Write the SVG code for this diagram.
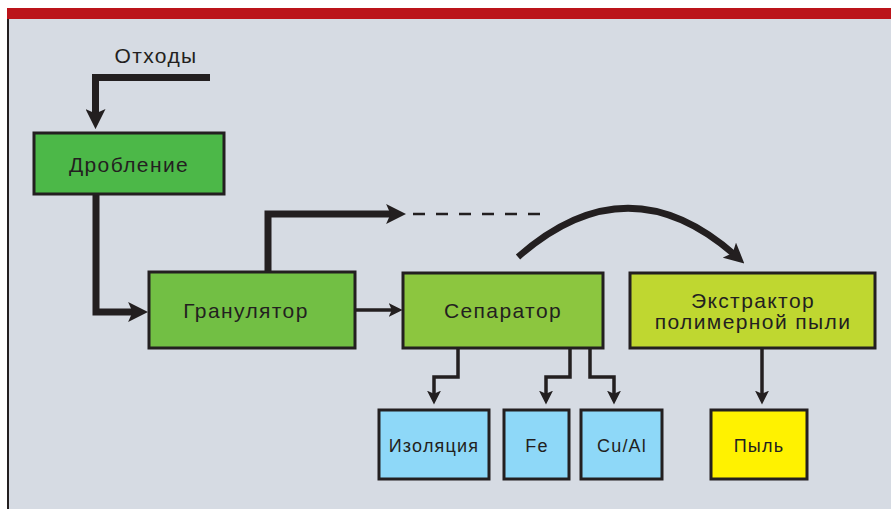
<svg xmlns="http://www.w3.org/2000/svg" width="891" height="509" viewBox="0 0 891 509">
<style>
.box{stroke:#231f20;stroke-width:3}
.t{font-family:"Liberation Sans",Arial,sans-serif;font-size:21px;letter-spacing:1.4px;fill:#231f20;text-anchor:middle}
.s{font-size:18px;letter-spacing:1.2px}
.thick{fill:none;stroke:#231f20;stroke-width:7}
.med{fill:none;stroke:#231f20;stroke-width:3.5}
.dash{fill:none;stroke:#231f20;stroke-width:2.5;stroke-dasharray:12 11}
</style>
<defs>
<marker id="ah" markerUnits="userSpaceOnUse" markerWidth="20" markerHeight="20" viewBox="0 0 18 18" refX="8" refY="9" orient="auto"><path d="M0,0 L18,9 L0,18 L4,9 Z" fill="#231f20"/></marker>
<marker id="am" markerUnits="userSpaceOnUse" markerWidth="14" markerHeight="14" viewBox="0 0 13 13" refX="5" refY="6.5" orient="auto"><path d="M0,0 L13,6.5 L0,13 L3,6.5 Z" fill="#231f20"/></marker>
</defs>
<rect x="0" y="0" width="891" height="509" fill="#ffffff"/>
<rect x="7" y="19" width="884" height="490" fill="#d6dbe3"/>
<rect x="7" y="8" width="884" height="11" fill="#bb141a"/>
<line x1="8" y1="19" x2="8" y2="509" stroke="#231f20" stroke-width="2"/>
<text class="t" x="156" y="63">Отходы</text>
<g id="connectors">
<path class="thick" d="M210,77.5 H95.5 V118" marker-end="url(#ah)"/>
<path class="thick" d="M96,194 V312 H137" marker-end="url(#ah)"/>
<path class="thick" d="M268,272 V214 H395" marker-end="url(#ah)"/>
<path class="dash" d="M413,214 H542"/>
<path class="med" d="M355,310 H394" marker-end="url(#am)"/>
<path d="M518,257 Q628,160 736,256" fill="none" stroke="#231f20" stroke-width="6.5" marker-end="url(#ah)"/>
<path class="med" d="M458,348 V377 H434 V396" marker-end="url(#am)"/>
<path class="med" d="M570,348 V377 H546 V396" marker-end="url(#am)"/>
<path class="med" d="M590,348 V377 H614 V396" marker-end="url(#am)"/>
<path class="med" d="M762,348 V396" marker-end="url(#am)"/>
</g>
<g id="droblenie"><rect class="box" x="34" y="133" width="190" height="61" fill="#4cb848"/><text class="t" x="129" y="172">Дробление</text></g>
<g id="granulyator"><rect class="box" x="149" y="272" width="206" height="76" fill="#72bf44"/><text class="t" x="246" y="318">Гранулятор</text></g>
<g id="separator"><rect class="box" x="403" y="273" width="200" height="75" fill="#8cc63f"/><text class="t" x="503" y="318">Сепаратор</text></g>
<g id="extractor"><rect class="box" x="630" y="273" width="245" height="75" fill="#bfd730"/><text class="t" x="753" y="308">Экстрактор</text><text class="t" x="753" y="329">полимерной пыли</text></g>
<g id="izolyaciya"><rect class="box" x="379" y="410" width="110" height="69" fill="#8ed8f8"/><text class="t s" x="434" y="452">Изоляция</text></g>
<g id="fe"><rect class="box" x="504" y="410" width="65" height="69" fill="#8ed8f8"/><text class="t s" x="537" y="452">Fe</text></g>
<g id="cual"><rect class="box" x="581" y="410" width="81" height="69" fill="#8ed8f8"/><text class="t s" x="622" y="452">Cu/Al</text></g>
<g id="pyl"><rect class="box" x="711" y="410" width="96" height="69" fill="#fff200"/><text class="t s" x="759" y="452">Пыль</text></g>
</svg>
